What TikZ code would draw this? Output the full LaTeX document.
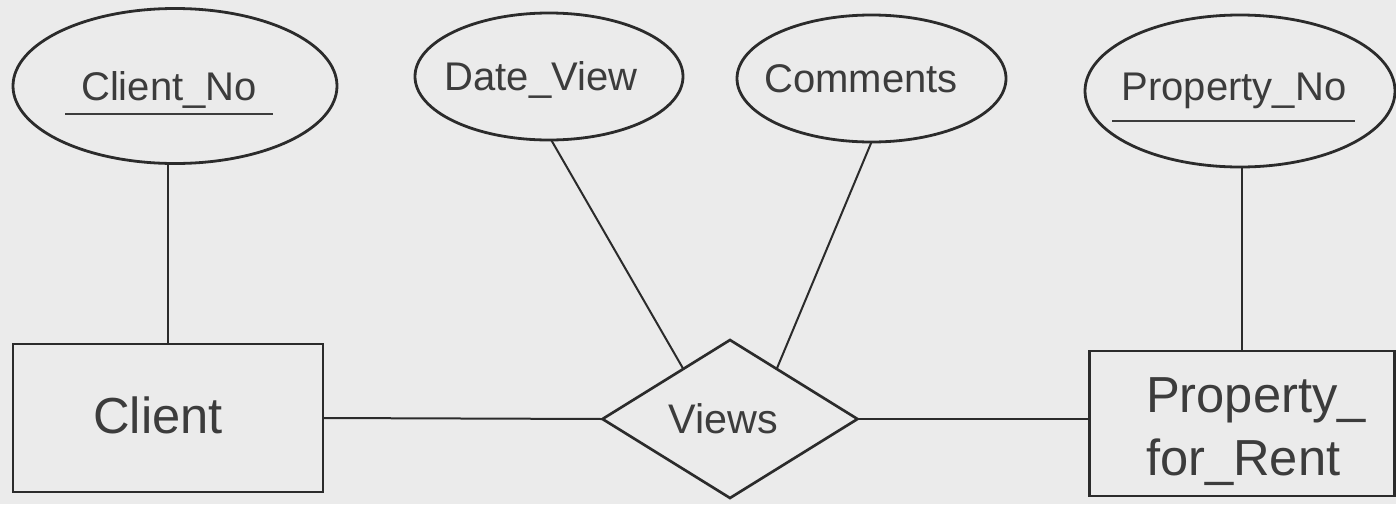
\documentclass[tikz,border=0pt]{standalone}
\usepackage{fontspec}
\setmainfont{Liberation Sans}
\usetikzlibrary{shapes.geometric}
\definecolor{bg}{HTML}{EBEBEB}
\definecolor{ink}{HTML}{2B2B2B}
\definecolor{txt}{HTML}{3C3C3C}
\newcommand\shiftlbl[2]{\makebox[0pt]{\hspace*{#1}#2}}
\begin{document}
\begin{tikzpicture}[x=0.75pt,y=-0.75pt,
  attr/.style={ellipse, draw=ink, line width=2.1pt, inner sep=0pt, outer sep=0pt, text=txt,
    font=\fontsize{30}{36}\selectfont, text depth=0pt},
  ent/.style={rectangle, draw=ink, line width=2.2pt, inner sep=0pt, outer sep=0pt, text=txt,
    font=\fontsize{38}{47}\selectfont, text depth=0pt},
  rel/.style={diamond, draw=ink, line width=2pt, inner sep=0pt, outer sep=0pt, text=txt,
    font=\fontsize{31}{37}\selectfont, text depth=0pt},
  conn/.style={draw=ink, line width=1.5pt},
  ul/.style={draw=txt, line width=2pt}]
\fill[bg] (0,0) rectangle (1396,504);
\useasboundingbox (0,0) rectangle (1396,504);

% attributes
\node[attr, minimum width=243pt, minimum height=116.25pt, text height=21pt] (cno) at (175,86)
  {\shiftlbl{-9pt}{Client\_No}};
\node[attr, minimum width=201pt, minimum height=95.25pt, text height=21pt] (dv) at (549,76.5)
  {\shiftlbl{-12pt}{Date\_View}};
\node[attr, minimum width=201.75pt, minimum height=95.25pt, text height=21pt] (cm) at (871.5,78.5)
  {\shiftlbl{-15.75pt}{Comments}};
\node[attr, minimum width=232.5pt, minimum height=114pt, text height=13.5pt] (pno) at (1240,91)
  {\shiftlbl{-9pt}{Property\_No}};

% key underlines
\draw[ul] ([shift={(-110,28)}]cno.center) -- ([shift={(98,28)}]cno.center);
\draw[ul] ([shift={(-128,30)}]pno.center) -- ([shift={(115,30)}]pno.center);

% entities
\node[ent, minimum width=232.5pt, minimum height=111pt, text height=22.5pt] (client) at (168,418)
  {\shiftlbl{-15pt}{Client}};
\node[ent, minimum width=228.75pt, minimum height=108.75pt, text height=77.25pt] (prop) at (1242,423.5)
  {\makebox[0pt][l]{\hspace*{-72pt}\begin{tabular}[b]{@{}l@{}}Property\_\\for\_Rent\end{tabular}}};

% relationship
\node[rel, minimum width=191.25pt, minimum height=118.5pt, text height=21pt] (views) at (730,419)
  {\shiftlbl{-10.5pt}{Views}};

% connectors
\draw[conn] (client.north) -- (client.north |- cno.south);
\draw[conn] (prop.north) -- (prop.north |- pno.south);
\draw[conn] (client.east) -- (views.west);
\draw[conn] (views.east) -- (views.east -| prop.west);
\draw[conn] (dv.-88) -- (views.133);
\draw[conn] (cm.south) -- (views.47);
\end{tikzpicture}
\end{document}
